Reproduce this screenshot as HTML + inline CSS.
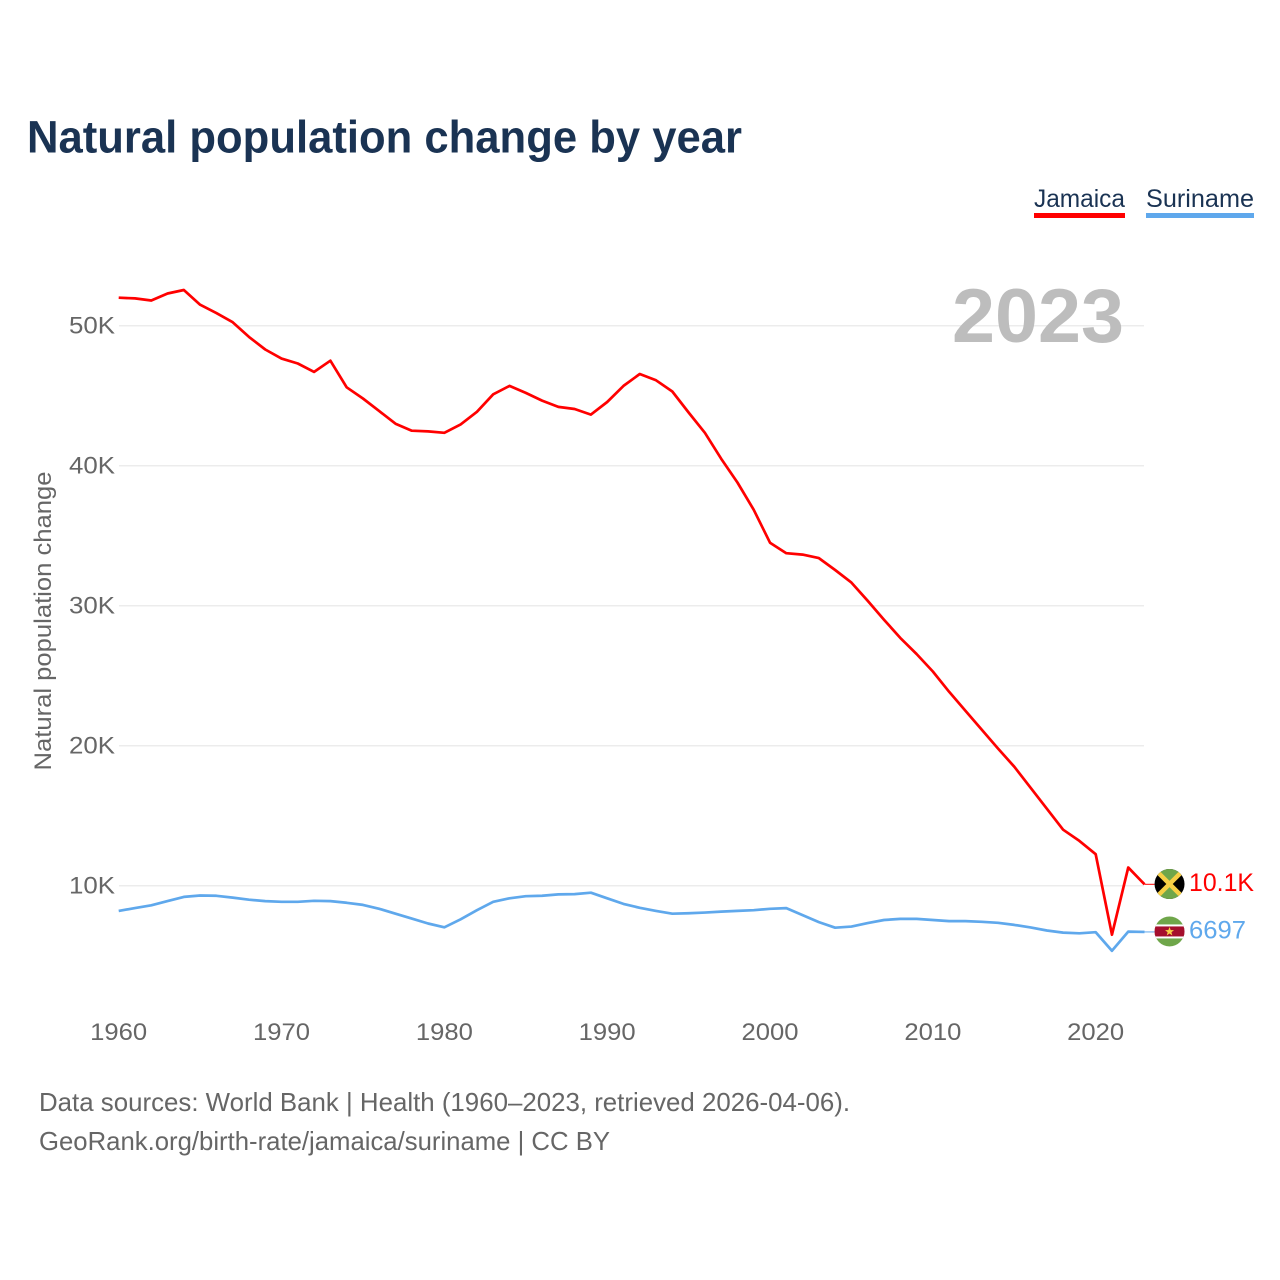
<!DOCTYPE html>
<html lang="en">
<head>
<meta charset="utf-8">
<title>Natural population change by year</title>
<style>
html,body{margin:0;padding:0;background:#fff}
svg{display:block}
text{font-family:"Liberation Sans",sans-serif}
</style>
</head>
<body>
<svg id="chart" xmlns="http://www.w3.org/2000/svg" width="1280" height="1280" viewBox="0 0 1280 1280">
  <defs>
    <clipPath id="flag-clip-jm"><circle cx="0" cy="0" r="15"/></clipPath>
    <clipPath id="flag-clip-sr"><circle cx="0" cy="0" r="15"/></clipPath>
  </defs>
  <rect width="1280" height="1280" fill="#fff"/>
  <text x="27" y="152.5" font-size="45" font-weight="700" fill="#1a3353" textLength="715" lengthAdjust="spacingAndGlyphs">Natural population change by year</text>

  <g>
    <text x="1034" y="207" font-size="25" fill="#1a3353" textLength="91" lengthAdjust="spacingAndGlyphs">Jamaica</text>
    <rect x="1034" y="213" width="91" height="5" fill="#ff0000"/>
  </g>
  <g>
    <text x="1146" y="207" font-size="25" fill="#1a3353" textLength="108" lengthAdjust="spacingAndGlyphs">Suriname</text>
    <rect x="1146" y="213" width="108" height="5" fill="#5fa8ec"/>
  </g>

  <g id="grid"></g>
  <g id="y-ticks"></g>
  <g id="x-ticks"></g>

  <text x="1124" y="342" font-size="76" font-weight="700" fill="#bdbdbd" text-anchor="end" textLength="172" lengthAdjust="spacingAndGlyphs">2023</text>

  <text transform="translate(51 621) rotate(-90)" font-size="24" fill="#666" text-anchor="middle" textLength="299" lengthAdjust="spacingAndGlyphs">Natural population change</text>

  <g id="series"></g>

  <g id="flag-jm">
    <g clip-path="url(#flag-clip-jm)">
      <rect x="-15" y="-15" width="30" height="30" fill="#000"/>
      <polygon points="-15,-15 15,-15 0,0" fill="#6fa64a"/>
      <polygon points="-15,15 15,15 0,0" fill="#6fa64a"/>
      <line x1="-15" y1="-15" x2="15" y2="15" stroke="#f6cf45" stroke-width="4.5"/>
      <line x1="15" y1="-15" x2="-15" y2="15" stroke="#f6cf45" stroke-width="4.5"/>
    </g>
  </g>
  <g id="flag-sr">
    <g clip-path="url(#flag-clip-sr)">
      <rect x="-15" y="-15" width="30" height="30" fill="#6fa64a"/>
      <rect x="-15" y="-7" width="30" height="14" fill="#fff"/>
      <rect x="-15" y="-5" width="30" height="10" fill="#a50f2d"/>
      <polygon points="0,-4.5 1.2,-1.3 4.5,-1.3 1.9,0.8 2.8,4 0,2.1 -2.8,4 -1.9,0.8 -4.5,-1.3 -1.2,-1.3" fill="#f6cf45"/>
    </g>
  </g>
  <g id="end-labels"></g>

  <text x="39" y="1111" font-size="26" fill="#666" textLength="811" lengthAdjust="spacingAndGlyphs">Data sources: World Bank | Health (1960–2023, retrieved 2026-04-06).</text>
  <text x="39" y="1150" font-size="26" fill="#666" textLength="571" lengthAdjust="spacingAndGlyphs">GeoRank.org/birth-rate/jamaica/suriname | CC BY</text>
</svg>
<script>
const years = [1960,1961,1962,1963,1964,1965,1966,1967,1968,1969,1970,1971,1972,1973,1974,1975,1976,1977,1978,1979,1980,1981,1982,1983,1984,1985,1986,1987,1988,1989,1990,1991,1992,1993,1994,1995,1996,1997,1998,1999,2000,2001,2002,2003,2004,2005,2006,2007,2008,2009,2010,2011,2012,2013,2014,2015,2016,2017,2018,2019,2020,2021,2022,2023];
const jamaicaValues = [52000,51950,51800,52300,52550,51500,50900,50250,49200,48300,47650,47300,46700,47500,45600,44800,43900,43000,42500,42450,42350,42950,43850,45100,45700,45200,44650,44200,44050,43650,44550,45700,46550,46100,45300,43800,42350,40500,38800,36850,34500,33750,33650,33400,32550,31650,30350,29000,27700,26550,25300,23850,22500,21150,19800,18500,17000,15500,14000,13200,12250,6500,11300,10100];
const surinameValues = [8200,8400,8600,8900,9200,9300,9280,9150,9000,8900,8850,8850,8920,8900,8780,8630,8350,8000,7650,7300,7030,7600,8250,8850,9100,9250,9280,9380,9400,9500,9100,8700,8420,8200,8000,8030,8080,8150,8200,8250,8350,8400,7900,7400,7000,7080,7330,7550,7630,7630,7550,7470,7470,7420,7350,7200,7020,6800,6650,6600,6680,5350,6720,6697];
const yTickValues = [10000,20000,30000,40000,50000];
const yTickLabels = ["10K","20K","30K","40K","50K"];
const xTickYears = [1960,1970,1980,1990,2000,2010,2020];

const NS = "http://www.w3.org/2000/svg";
const RED = "#ff0000";
const BLUE = "#5fa8ec";
function xScale(year){ return 118.7 + (year - 1960) * 16.283; }
function yScale(v){ return 1025.7 - v * 0.014; }
function make(tag, attrs, parent, text){
  const el = document.createElementNS(NS, tag);
  for (const k in attrs) el.setAttribute(k, attrs[k]);
  if (text !== undefined) el.textContent = text;
  parent.appendChild(el);
  return el;
}
function formatValue(v){
  return v >= 10000 ? (v / 1000).toFixed(1) + "K" : String(v);
}

const grid = document.getElementById("grid");
const yTicks = document.getElementById("y-ticks");
yTickValues.forEach(function(v, i){
  const line = make("line", {x1:119, x2:1144, y1:yScale(v), y2:yScale(v), stroke:"#ececec", "stroke-width":1.5}, grid);
  
  
  const t = make("text", {x:115, y:yScale(v)+8, "font-size":24, fill:"#666", "text-anchor":"end", textLength:46, lengthAdjust:"spacingAndGlyphs"}, yTicks, yTickLabels[i]);
  
  
});

const xTicks = document.getElementById("x-ticks");
xTickYears.forEach(function(y){
  const t = make("text", {x:xScale(y), y:1040, "font-size":24, fill:"#666", "text-anchor":"middle", textLength:57, lengthAdjust:"spacingAndGlyphs"}, xTicks, String(y));
  
  
});

function linePath(values){
  return values.map(function(v, i){
    return (i ? "L" : "M") + xScale(years[i]).toFixed(2) + " " + yScale(v).toFixed(2);
  }).join(" ");
}
const seriesGroup = document.getElementById("series");
const blueLine = make("path", {d:linePath(surinameValues), fill:"none", stroke:BLUE, "stroke-width":2.7, "stroke-linejoin":"round"}, seriesGroup);


const redLine = make("path", {d:linePath(jamaicaValues), fill:"none", stroke:RED, "stroke-width":2.7, "stroke-linejoin":"round"}, seriesGroup);



const lastYear = years[years.length - 1];
const jamaicaLast = jamaicaValues[jamaicaValues.length - 1];
const surinameLast = surinameValues[surinameValues.length - 1];
const endX = xScale(lastYear);

const jmY = yScale(jamaicaLast);
const srY = yScale(surinameLast);
const jmConnector = make("line", {x1:endX, x2:endX+10, y1:jmY, y2:jmY, stroke:RED, "stroke-width":1}, seriesGroup);


const srConnector = make("line", {x1:endX, x2:endX+10, y1:srY, y2:srY, stroke:BLUE, "stroke-width":1}, seriesGroup);



document.getElementById("flag-jm").setAttribute("transform", "translate(" + (endX + 25) + " " + (jmY - 0.3) + ")");
document.getElementById("flag-sr").setAttribute("transform", "translate(" + (endX + 25) + " " + (srY - 0.5) + ")");

const endLabels = document.getElementById("end-labels");
const jmLabel = make("text", {x:endX+44.5, y:jmY+6.5, "font-size":25, fill:RED, textLength:65, lengthAdjust:"spacingAndGlyphs"}, endLabels, formatValue(jamaicaLast));


const srLabel = make("text", {x:endX+44.5, y:srY+6.5, "font-size":25, fill:BLUE, textLength:57, lengthAdjust:"spacingAndGlyphs"}, endLabels, formatValue(surinameLast));


</script>
</body>
</html>
